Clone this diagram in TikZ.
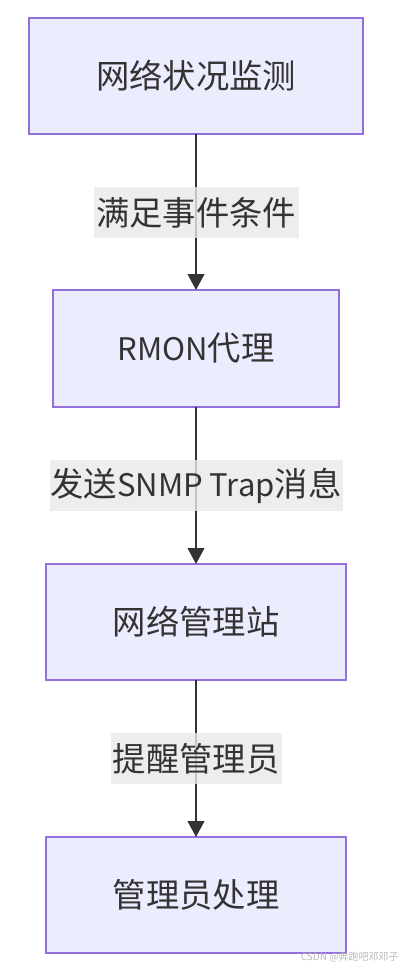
\documentclass[tikz,border=0pt]{standalone}
\usepackage{fontspec}
\setmainfont{Noto Sans CJK SC}
\usetikzlibrary{arrows.meta}
\definecolor{boxfill}{HTML}{ECECFF}
\definecolor{boxline}{HTML}{9370DB}
\definecolor{lblfill}{HTML}{E8E8E8}
\definecolor{ink}{HTML}{333333}
\newcommand{\latn}[1]{{\fontsize{23.3pt}{30pt}\selectfont #1}}
\tikzset{
  proc/.style={draw=boxline, fill=boxfill, line width=1.1pt, text=ink,
    inner sep=0pt, outer sep=0pt, minimum height=87pt,
    font=\fontsize{25pt}{30pt}\selectfont},
  lbl/.style={fill=lblfill, fill opacity=0.8, text opacity=1, text=ink,
    inner sep=0pt, minimum height=38.25pt,
    font=\fontsize{25pt}{30pt}\selectfont},
  flow/.style={draw=ink, line width=1.5pt, -{Triangle[width=12.5pt,length=12pt]}}
}
\begin{document}
\begin{tikzpicture}[x=0.75pt,y=-0.75pt]
\useasboundingbox (0,0) rectangle (402,970);
\node[proc, minimum width=250.5pt] (n1) at (196,76) {网络状况监测};
\node[proc, minimum width=214.5pt, minimum height=87.75pt] (n2) at (196,348.5) {\latn{RMON}代理};
\node[proc, minimum width=225pt] (n3) at (196,622) {网络管理站};
\node[proc, minimum width=225pt] (n4) at (196,895) {管理员处理};
\draw[flow] (n1) -- (n2);
\draw[flow] (n2) -- (n3);
\draw[flow] (n3) -- (n4);
\node[lbl, minimum width=153.75pt] (l1) at (196,212.5) {满足事件条件};
\node[lbl, minimum width=219.75pt] (l2) at (196,485.5) {发送\latn{SNMP Trap}消息};
\node[lbl, minimum width=128.25pt] (l3) at (196,758.5) {提醒管理员};
\node[text=gray!55, font=\fontsize{7.5pt}{9pt}\selectfont, inner sep=0pt, anchor=east] (wm) at (399,957) {CSDN @奔跑吧邓邓子};
\end{tikzpicture}
\end{document}
